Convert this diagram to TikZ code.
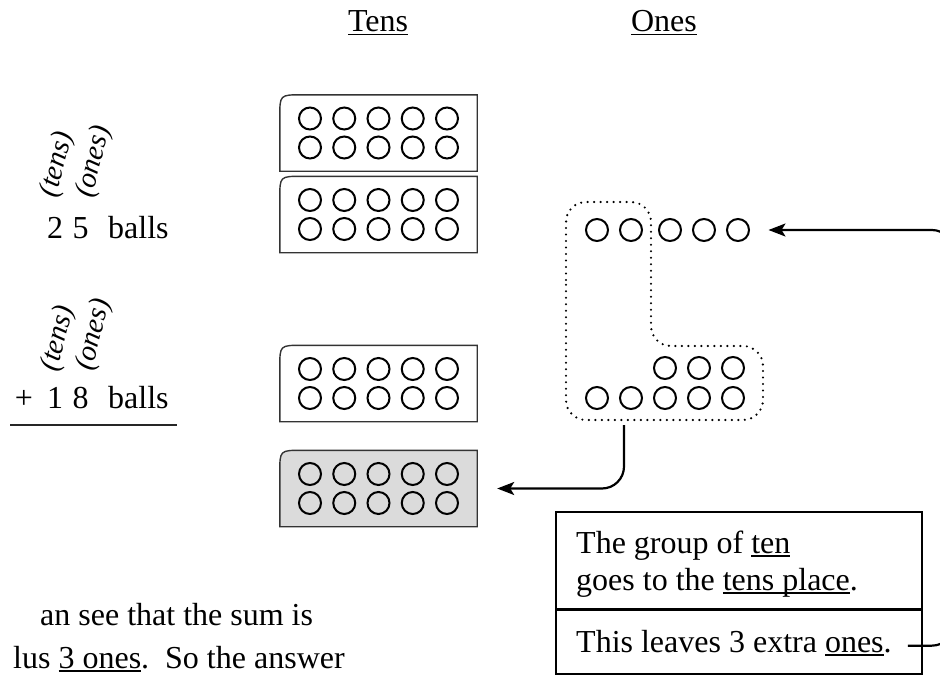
\documentclass[tikz,border=0pt]{standalone}
\usepackage{fontspec}
\setmainfont{Liberation Serif}
\usetikzlibrary{arrows.meta,calc}
\newcommand\myul[1]{\setbox0\hbox{#1}\rlap{\vrule width\wd0 height -2.2pt depth 3.5pt}\box0}
\begin{document}
\begin{tikzpicture}[x=1pt,y=-1pt,
  every node/.style={font=\fontsize{32}{38}\selectfont, inner sep=0pt},
  ball/.style={circle, draw, line width=2pt, minimum size=22pt, inner sep=0pt},
  tensbox/.style={minimum width=197pt, minimum height=76pt, inner sep=0pt},
  boxline/.style={draw=black!80, line width=1.4pt},
  grp/.style={line width=2.4pt, dash pattern=on 0pt off 6.5pt, line cap=round},
  conn/.style={line width=2.2pt, rounded corners=22pt, -{Stealth[length=17pt,width=13pt,inset=4pt]}},
  rlab/.style={font=\fontsize{29}{34}\selectfont\itshape, rotate=76},
  txtbox/.style={draw, line width=1.6pt, minimum width=366pt, anchor=north west},
]
\useasboundingbox (0,0) rectangle (940,677);

% headers
\node[anchor=base] (htens) at (378,32) {\myul{Tens}};
\node[anchor=base] (hones) at (664,32) {\myul{Ones}};

% left column
\node[rlab] (lt1) at (57.5,164.5) {(tens)};
\node[rlab] (lo1) at (94,162) {(ones)};
\node[anchor=base] (d2) at (55,238) {2};
\node[anchor=base] (d5) at (80.5,238) {5};
\node[anchor=base west] (b1) at (108,238) {balls};

\node[rlab] (lt2) at (58.5,338.5) {(tens)};
\node[rlab] (lo2) at (94,335) {(ones)};
\node[anchor=base] (plus) at (24,408) {+};
\node[anchor=base] (d1) at (55,408) {1};
\node[anchor=base] (d8) at (80.5,408) {8};
\node[anchor=base west] (b2) at (108,408) {balls};
\draw[line width=1.5pt, black!85] (10,425) -- (177,425);

% tens boxes
\foreach \b/\y/\f in {t1/133/white, t2/214.5/white, t3/383.5/white, t4/488.5/black!14} {
  \node[tensbox] (\b) at (378.5,\y) {};
  \draw[boxline, fill=\f] (\b.south east) -- (\b.south west)
    -- ([yshift=-22pt]\b.north west) .. controls (\b.north west) .. ([xshift=22pt]\b.north west)
    -- (\b.north east) -- cycle;
  \foreach \i in {0,...,4} {
    \node[ball] at ($(\b.center)+(-68.5+34.25*\i,-14.5)$) {};
    \node[ball] at ($(\b.center)+(-68.5+34.25*\i,14.5)$) {};
  }
}

% ones
\foreach \x [count=\k] in {597,631,670,704,738} \node[ball] (o\k) at (\x,230) {};
\foreach \x [count=\k] in {597,631,665,699,733} \node[ball] (p\k) at (\x,398) {};
\foreach \x [count=\k] in {665,699,733} \node[ball] (q\k) at (\x,368) {};

% dotted group of ten
\draw[grp, rounded corners=20pt] (566,300) -- (566,202) -- (651,202) -- (651,346)
  -- (763,346) -- (763,420) -- (566,420) -- cycle;
\coordinate (gbot) at (624,425);

% arrow to tens place
\draw[conn] (gbot) |- ([xshift=20pt]t4.east);

% text box
\node[txtbox, minimum height=98pt] (tb1) at (555,511) {};
\node[txtbox, minimum height=65pt] (tb2) at (555,608) {};
\node[anchor=base west] (l1) at (576,553) {The group of \myul{ten}};
\node[anchor=base west] (l2) at (576,590) {goes to the \myul{tens place}.};
\node[anchor=base west] (l3) at (576,652) {This leaves 3 extra \myul{ones}.};

% arrow back to ones
\draw[conn] ([xshift=16pt,yshift=-3pt]l3.east) -- ([xshift=62pt,yshift=-3pt]l3.east) |- ([xshift=18.5pt]o5.east);

% bottom text
\node[anchor=base west] (s1) at (40,625) {an see that the sum is};
\node[anchor=base west] (s2) at (13,668) {lus \myul{3 ones}.\ \ So the answer};
\end{tikzpicture}
\end{document}
